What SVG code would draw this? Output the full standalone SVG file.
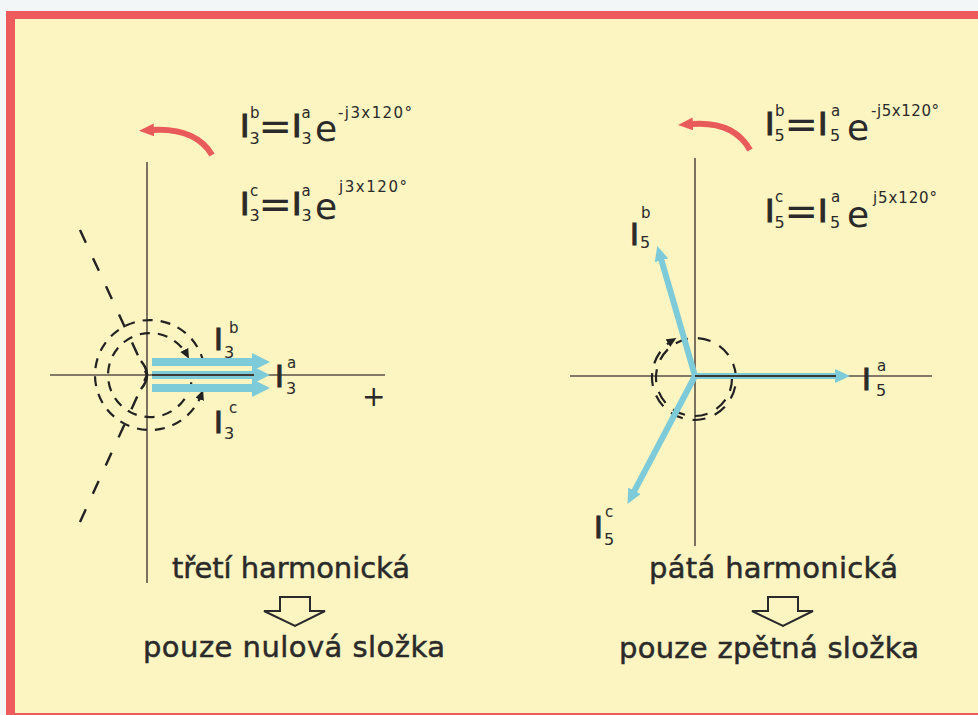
<svg xmlns="http://www.w3.org/2000/svg" width="978" height="715" viewBox="0 0 978 715">
<style>
text{font-family:"DejaVu Sans","Liberation Sans",sans-serif;fill:#2a2a2a}
.big{font-size:32px;stroke:#2a2a2a;stroke-width:1.2}
.lab{font-size:30px;stroke:#2a2a2a;stroke-width:1.1}
.eq{font-size:40px}
.ee{font-size:36px}
.sm{font-size:16px}
.exp{font-size:15px}
.cap{font-size:29px;stroke:#2a2a2a;stroke-width:0.5}
.ax{stroke:#5a5248;stroke-width:1.6;fill:none}
.ov{stroke:#3c3a36;stroke-width:2;fill:none}
.dash{stroke:#222;stroke-width:2.4;fill:none;stroke-dasharray:14 17}
.circ{stroke:#222;stroke-width:2.2;fill:none;stroke-dasharray:10 8}
.spir{stroke:#222;stroke-width:2.2;fill:none;stroke-dasharray:13 10}
.bl{stroke:#7dcad8;stroke-width:8;fill:none}
.bl2{stroke:#7dcad8;stroke-width:6;fill:none}
.red{stroke:#e95b5b;stroke-width:6;fill:none}
.hollow{fill:none;stroke:#2a2a2a;stroke-width:2}
</style>
<defs>
<marker id="bh" markerUnits="userSpaceOnUse" markerWidth="20" markerHeight="20" refX="1" refY="9" orient="auto"><path d="M0,0 L18,9 L0,18 z" fill="#7dcad8"/></marker>
<marker id="bh2" markerUnits="userSpaceOnUse" markerWidth="18" markerHeight="16" refX="1" refY="7" orient="auto"><path d="M0,0 L15,7 L0,14 z" fill="#7dcad8"/></marker>
<marker id="rh" markerUnits="userSpaceOnUse" markerWidth="18" markerHeight="16" refX="1" refY="6.5" orient="auto"><path d="M0,0 L15,6.5 L0,13 z" fill="#e95b5b"/></marker>
<marker id="ah" markerUnits="userSpaceOnUse" markerWidth="12" markerHeight="10" refX="6" refY="4.5" orient="auto"><path d="M0,0 L10,4.5 L0,9 z" fill="#222"/></marker>
</defs>

<rect x="0" y="0" width="978" height="715" fill="#f3f6f7"/>
<rect x="6" y="11" width="980" height="712" fill="#ee5b5d"/>
<rect x="15" y="19" width="970" height="694" fill="#fcf4c1"/>

<g id="connectors">
  <path class="ax" d="M147 162 V583 M50 375 H385"/>
  <path class="ax" d="M695 158 V546 M570 376 H932"/>
  <path class="dash" d="M80 230 L147 375"/>
  <path class="dash" d="M80 522 L147 375"/>
  <path class="circ" d="M191.4 382.3 A42 42 0 1 1 187.1 355.3" marker-end="url(#ah)"/>
  <path class="circ" d="M203.8 363.6 A55 55 0 1 0 201.7 393.8" marker-end="url(#ah)"/>
  <path d="M141 361 Q153 375 141 389" stroke="#222" stroke-width="2.5" fill="none"/>
  <path class="bl" d="M152 362 H253" marker-end="url(#bh)"/>
  <path class="bl" d="M152 375 H253" marker-end="url(#bh)"/>
  <path class="bl" d="M152 388 H253" marker-end="url(#bh)"/>
  <path class="ov" d="M152 375 H254"/>
  <path class="spir" d="M732 378 A37.5 37.5 0 0 1 695 416 A38.5 38.5 0 0 1 656 378 A39.6 39.6 0 0 1 695 338 A40.7 40.7 0 0 1 736 378 A41.7 41.7 0 0 1 695 420 A42.8 42.8 0 0 1 652 378 A43.6 43.6 0 0 1 673 340" marker-end="url(#ah)"/>
  <path class="bl2" d="M695 376 H836" marker-end="url(#bh2)"/>
  <path class="bl2" d="M695 376 L661.2 259.4" marker-end="url(#bh2)"/>
  <path class="bl2" d="M695 376 L634 491.7" marker-end="url(#bh2)"/>
  <path class="ov" d="M695 376 H836"/>
  <path class="red" d="M212 155 Q196 128 153 130" marker-end="url(#rh)"/>
  <path class="red" d="M750 150 Q734 121 692 124" marker-end="url(#rh)"/>
  <path class="hollow" d="M280 597 H310 V611 H325 L295 626 L264 611 H280 Z"/>
  <path class="hollow" d="M768 597 H798 V611 H813 L783 626 L752 611 H768 Z"/>
</g>

<g id="formula-3b">
  <text class="big" x="240" y="137">I</text>
  <text class="exp" x="250" y="118">b</text>
  <text class="sm" x="249.5" y="144">3</text>
  <text class="eq" x="258.5" y="140">=</text>
  <text class="big" x="292" y="137">I</text>
  <text class="exp" x="301.5" y="118">a</text>
  <text class="sm" x="301.5" y="144">3</text>
  <text class="ee" x="315" y="141">e</text>
  <text class="exp" x="338" y="118" textLength="74">-j3x120°</text>
</g>
<g id="formula-3c">
  <text class="big" x="240" y="215">I</text>
  <text class="exp" x="250" y="196">c</text>
  <text class="sm" x="249.5" y="221">3</text>
  <text class="eq" x="258.5" y="218">=</text>
  <text class="big" x="292" y="215">I</text>
  <text class="exp" x="301.5" y="196">a</text>
  <text class="sm" x="301.5" y="221">3</text>
  <text class="ee" x="315" y="219">e</text>
  <text class="exp" x="339" y="192" textLength="68">j3x120°</text>
</g>
<g id="formula-5b">
  <text class="big" x="765" y="135">I</text>
  <text class="exp" x="775" y="116">b</text>
  <text class="sm" x="774.5" y="141">5</text>
  <text class="eq" x="784.5" y="138">=</text>
  <text class="big" x="818" y="135">I</text>
  <text class="exp" x="831" y="116">a</text>
  <text class="sm" x="830" y="141">5</text>
  <text class="ee" x="847" y="140">e</text>
  <text class="exp" x="871" y="116" textLength="68">-j5x120°</text>
</g>
<g id="formula-5c">
  <text class="big" x="765" y="222">I</text>
  <text class="exp" x="775" y="202">c</text>
  <text class="sm" x="774.5" y="228">5</text>
  <text class="eq" x="784.5" y="225">=</text>
  <text class="big" x="818" y="222">I</text>
  <text class="exp" x="831" y="202">a</text>
  <text class="sm" x="830" y="228">5</text>
  <text class="ee" x="847" y="227">e</text>
  <text class="exp" x="873" y="203" textLength="64">j5x120°</text>
</g>

<g id="label-I3b">
  <text class="lab" x="214" y="350">I</text>
  <text class="exp" x="229" y="333">b</text>
  <text class="sm" x="224" y="358">3</text>
</g>
<g id="label-I3a">
  <text class="lab" x="275" y="387">I</text>
  <text class="exp" x="287" y="368">a</text>
  <text class="sm" x="286" y="394">3</text>
</g>
<g id="label-I3c">
  <text class="lab" x="214" y="433">I</text>
  <text class="exp" x="229" y="413">c</text>
  <text class="sm" x="224" y="439">3</text>
</g>
<g id="label-plus">
  <text x="362" y="406" font-size="28">+</text>
</g>
<g id="label-I5b">
  <text class="lab" x="630" y="245">I</text>
  <text class="exp" x="641" y="218">b</text>
  <text class="sm" x="640" y="248">5</text>
</g>
<g id="label-I5a">
  <text class="lab" x="862" y="390">I</text>
  <text class="exp" x="877" y="371">a</text>
  <text class="sm" x="876" y="396">5</text>
</g>
<g id="label-I5c">
  <text class="lab" x="594" y="538">I</text>
  <text class="exp" x="605" y="517">c</text>
  <text class="sm" x="604" y="545">5</text>
</g>

<g id="caption-left">
  <text class="cap" x="172" y="578" textLength="238">třetí harmonická</text>
  <text class="cap" x="143" y="657" textLength="302">pouze nulová složka</text>
</g>
<g id="caption-right">
  <text class="cap" x="649" y="578" textLength="249">pátá harmonická</text>
  <text class="cap" x="619" y="658" textLength="300">pouze zpětná složka</text>
</g>
</svg>
